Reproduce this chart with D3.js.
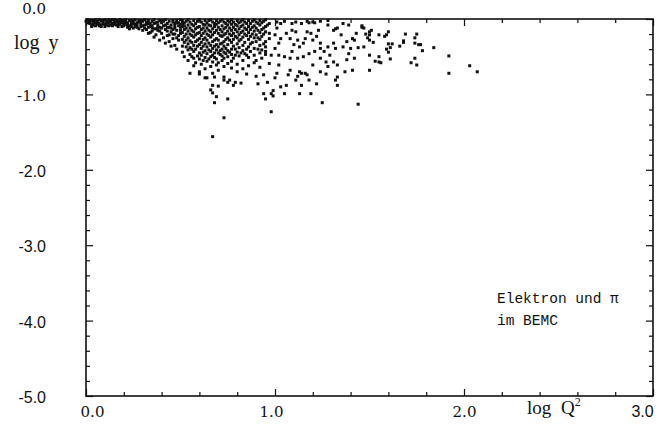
<!DOCTYPE html>
<html>
<head>
<meta charset="utf-8">
<script src="https://cdn.jsdelivr.net/npm/d3@7"></script>
<style>
	body { margin: 0; background: #fff; }
	svg { display: block; }
</style>
</head>
<body>
<div id="chart"></div>
<script>
// axis values
const xTickValues = [0, 1, 2, 3]
const yTickValues = [0, -1, -2, -3, -4, -5]
const xMinorTicks = [0.2, 0.4, 0.6, 0.8, 1.2, 1.4, 1.6, 1.8, 2.2, 2.4, 2.6, 2.8]
const yMinorTicks = [-0.2, -0.4, -0.6, -0.8, -1.2, -1.4, -1.6, -1.8, -2.2, -2.4, -2.6, -2.8, -3.2, -3.4, -3.6, -3.8, -4.2, -4.4, -4.6, -4.8]
const noteLines = ["Elektron und \u03c0", "im BEMC"]

// events [log Q2, log y]
const lowQ2 = [
	[0.01,-0.01],[0.02,-0.04],[0.03,-0.02],[0.03,-0.07],[0.04,-0.05],[0.05,-0.01],[0.05,-0.09],[0.06,-0.03],
	[0.07,-0.06],[0.08,-0.02],[0.08,-0.08],[0.09,-0.04],[0.10,-0.01],[0.10,-0.07],[0.11,-0.03],[0.12,-0.05],
	[0.12,-0.09],[0.13,-0.02],[0.14,-0.06],[0.15,-0.04],[0.15,-0.01],[0.16,-0.08],[0.17,-0.03],[0.17,-0.06],
	[0.18,-0.01],[0.19,-0.05],[0.19,-0.10],[0.20,-0.03],[0.21,-0.07],[0.21,-0.01],[0.22,-0.05],[0.23,-0.02],
	[0.23,-0.09],[0.24,-0.06],[0.25,-0.03],[0.25,-0.12],[0.26,-0.01],[0.27,-0.08],[0.27,-0.05],[0.28,-0.02],
	[0.29,-0.10],[0.29,-0.06],[0.30,-0.03],[0.00,-0.03],[0.02,-0.06],[0.04,-0.02],[0.06,-0.07],[0.07,-0.01],
	[0.09,-0.06],[0.11,-0.08],[0.13,-0.04],[0.14,-0.01],[0.16,-0.04],[0.18,-0.07],[0.20,-0.09],[0.22,-0.11],
	[0.24,-0.02],[0.26,-0.07],[0.28,-0.13],[0.01,-0.05],[0.03,-0.10],[0.06,-0.05],[0.08,-0.10],[0.11,-0.05],
	[0.13,-0.08],[0.16,-0.02],[0.18,-0.04],[0.20,-0.06],[0.23,-0.13],[0.26,-0.10],[0.29,-0.02],
	[0.02,-0.02],[0.04,-0.08],[0.05,-0.05],[0.07,-0.09],[0.09,-0.02],[0.10,-0.10],[0.12,-0.01],[0.14,-0.09],
	[0.15,-0.07],[0.17,-0.10],[0.19,-0.02],[0.21,-0.04],[0.22,-0.08],[0.24,-0.10],[0.25,-0.06],[0.27,-0.11],
	[0.28,-0.04],[0.30,-0.09]
]

const midBand = [
	[0.31,-0.01],[0.31,-0.08],[0.32,-0.04],[0.32,-0.14],[0.33,-0.02],[0.33,-0.11],[0.34,-0.06],[0.34,-0.18],
	[0.35,-0.03],[0.35,-0.09],[0.36,-0.13],[0.36,-0.01],[0.37,-0.05],[0.37,-0.21],[0.38,-0.08],[0.38,-0.15],
	[0.39,-0.02],[0.39,-0.11],[0.40,-0.05],[0.40,-0.19],[0.41,-0.09],[0.41,-0.25],[0.42,-0.01],[0.42,-0.14],
	[0.43,-0.06],[0.43,-0.22],[0.44,-0.03],[0.44,-0.11],[0.44,-0.30],[0.45,-0.17],[0.45,-0.08],[0.46,-0.02],
	[0.46,-0.26],[0.47,-0.12],[0.47,-0.20],[0.47,-0.35],[0.48,-0.05],[0.48,-0.15],[0.49,-0.09],[0.49,-0.28],
	[0.50,-0.01],[0.50,-0.19],[0.30,-0.15],[0.33,-0.19],[0.36,-0.24],[0.39,-0.28],[0.42,-0.32],[0.45,-0.36],
	[0.48,-0.40],[0.34,-0.10],[0.37,-0.13],[0.40,-0.12],[0.43,-0.16],[0.46,-0.14],[0.49,-0.22],[0.32,-0.07],
	[0.35,-0.16],[0.38,-0.04],[0.41,-0.03],[0.44,-0.21],[0.47,-0.06],[0.50,-0.11],
	[0.31,-0.12],[0.33,-0.06],[0.35,-0.12],[0.36,-0.06],[0.38,-0.11],[0.39,-0.16],[0.40,-0.02],[0.42,-0.08],
	[0.43,-0.11],[0.45,-0.12],[0.46,-0.20],[0.48,-0.25],[0.50,-0.15]
]

const peakBand = [
	[0.51,-0.02],[0.51,-0.10],[0.51,-0.18],[0.51,-0.27],[0.51,-0.36],[0.51,-0.44],
	[0.52,-0.05],[0.52,-0.14],[0.52,-0.23],[0.52,-0.31],[0.52,-0.50],
	[0.54,-0.01],[0.54,-0.08],[0.54,-0.16],[0.54,-0.25],[0.54,-0.33],[0.54,-0.41],[0.54,-0.55],
	[0.55,-0.04],[0.55,-0.12],[0.55,-0.20],[0.55,-0.29],[0.55,-0.38],[0.55,-0.47],
	[0.57,-0.02],[0.57,-0.09],[0.57,-0.17],[0.57,-0.24],[0.57,-0.35],[0.57,-0.43],[0.57,-0.52],[0.57,-0.62],
	[0.58,-0.06],[0.58,-0.13],[0.58,-0.21],[0.58,-0.30],[0.58,-0.40],[0.58,-0.58],
	[0.60,-0.01],[0.60,-0.10],[0.60,-0.18],[0.60,-0.26],[0.60,-0.34],[0.60,-0.45],[0.60,-0.53],[0.60,-0.70],
	[0.61,-0.04],[0.61,-0.14],[0.61,-0.22],[0.61,-0.31],[0.61,-0.39],[0.61,-0.48],[0.61,-0.60],
	[0.63,-0.02],[0.63,-0.08],[0.63,-0.16],[0.63,-0.25],[0.63,-0.33],[0.63,-0.42],[0.63,-0.51],[0.63,-0.66],
	[0.64,-0.05],[0.64,-0.12],[0.64,-0.20],[0.64,-0.28],[0.64,-0.37],[0.64,-0.46],[0.64,-0.56],[0.64,-0.78],
	[0.66,-0.01],[0.66,-0.09],[0.66,-0.17],[0.66,-0.24],[0.66,-0.35],[0.66,-0.43],[0.66,-0.50],[0.66,-0.63],
	[0.67,-0.04],[0.67,-0.13],[0.67,-0.21],[0.67,-0.30],[0.67,-0.39],[0.67,-0.48],[0.67,-0.57],[0.67,-0.72],
	[0.69,-0.02],[0.69,-0.07],[0.69,-0.15],[0.69,-0.26],[0.69,-0.34],[0.69,-0.41],[0.69,-0.53],[0.69,-0.61],
	[0.70,-0.05],[0.70,-0.11],[0.70,-0.19],[0.70,-0.28],[0.70,-0.37],[0.70,-0.45],[0.70,-0.58],[0.70,-0.68],
	[0.72,-0.01],[0.72,-0.09],[0.72,-0.17],[0.72,-0.23],[0.72,-0.32],[0.72,-0.40],[0.72,-0.49],[0.72,-0.55],
	[0.73,-0.04],[0.73,-0.13],[0.73,-0.21],[0.73,-0.30],[0.73,-0.36],[0.73,-0.44],[0.73,-0.52],[0.73,-0.63],
	[0.75,-0.02],[0.75,-0.08],[0.75,-0.16],[0.75,-0.25],[0.75,-0.34],[0.75,-0.42],[0.75,-0.50],[0.75,-0.59]
]

// darker clumps in between the columns above
const clumps = [
	[0.46,-0.04],[0.47,-0.09],[0.48,-0.02],[0.49,-0.05],[0.50,-0.07],[0.51,-0.06],[0.52,-0.09],[0.53,-0.03],
	[0.53,-0.12],[0.53,-0.20],[0.53,-0.28],[0.53,-0.37],[0.56,-0.07],[0.56,-0.15],[0.56,-0.22],[0.56,-0.31],
	[0.56,-0.40],[0.56,-0.50],[0.59,-0.03],[0.59,-0.11],[0.59,-0.19],[0.59,-0.28],[0.59,-0.36],[0.59,-0.49],
	[0.62,-0.07],[0.62,-0.12],[0.62,-0.19],[0.62,-0.27],[0.62,-0.36],[0.62,-0.44],[0.62,-0.55],[0.65,-0.02],
	[0.65,-0.08],[0.65,-0.15],[0.65,-0.22],[0.65,-0.32],[0.65,-0.41],[0.65,-0.53],[0.68,-0.06],[0.68,-0.10],
	[0.68,-0.18],[0.68,-0.28],[0.68,-0.36],[0.68,-0.45],[0.68,-0.51],[0.71,-0.03],[0.71,-0.14],[0.71,-0.22],
	[0.71,-0.33],[0.71,-0.42],[0.71,-0.47],[0.74,-0.06],[0.74,-0.11],[0.74,-0.19],[0.74,-0.27],[0.74,-0.39],
	[0.74,-0.46],[0.76,-0.04],[0.76,-0.12],[0.76,-0.20],[0.76,-0.28],[0.76,-0.44],[0.79,-0.07],[0.79,-0.14],
	[0.79,-0.23],[0.79,-0.40],[0.79,-0.48],[0.82,-0.03],[0.82,-0.10],[0.82,-0.18],[0.82,-0.27],[0.82,-0.45],
	[0.85,-0.06],[0.85,-0.14],[0.85,-0.22],[0.85,-0.40],[0.85,-0.48],[0.88,-0.03],[0.88,-0.11],[0.88,-0.20],
	[0.88,-0.31],[0.91,-0.06],[0.91,-0.15],[0.91,-0.25],[0.91,-0.40],[0.94,-0.03],[0.94,-0.12],[0.94,-0.20],
	[0.94,-0.33]
]

const shoulderBand = [
	[0.77,-0.01],[0.77,-0.07],[0.77,-0.15],[0.77,-0.22],[0.77,-0.31],[0.77,-0.40],[0.77,-0.47],[0.77,-0.56],[0.77,-0.65],
	[0.78,-0.04],[0.78,-0.11],[0.78,-0.19],[0.78,-0.27],[0.78,-0.36],[0.78,-0.52],
	[0.80,-0.02],[0.80,-0.09],[0.80,-0.17],[0.80,-0.25],[0.80,-0.33],[0.80,-0.44],[0.80,-0.60],
	[0.81,-0.05],[0.81,-0.13],[0.81,-0.21],[0.81,-0.29],[0.81,-0.38],[0.81,-0.49],
	[0.83,-0.01],[0.83,-0.08],[0.83,-0.16],[0.83,-0.24],[0.83,-0.35],[0.83,-0.42],[0.83,-0.55],[0.83,-0.66],
	[0.84,-0.04],[0.84,-0.12],[0.84,-0.20],[0.84,-0.31],[0.84,-0.46],
	[0.86,-0.02],[0.86,-0.10],[0.86,-0.18],[0.86,-0.27],[0.86,-0.37],[0.86,-0.51],[0.86,-0.62],
	[0.87,-0.06],[0.87,-0.14],[0.87,-0.23],[0.87,-0.33],[0.87,-0.43],
	[0.89,-0.01],[0.89,-0.09],[0.89,-0.16],[0.89,-0.25],[0.89,-0.39],[0.89,-0.48],[0.89,-0.58],
	[0.90,-0.04],[0.90,-0.12],[0.90,-0.21],[0.90,-0.30],[0.90,-0.55],
	[0.92,-0.02],[0.92,-0.08],[0.92,-0.18],[0.92,-0.27],[0.92,-0.35],[0.92,-0.45],[0.92,-0.64],
	[0.93,-0.05],[0.93,-0.14],[0.93,-0.23],[0.93,-0.41],[0.93,-0.52],
	[0.95,-0.01],[0.95,-0.10],[0.95,-0.17],[0.95,-0.30],[0.95,-0.37],[0.95,-0.47]
]

const highQ2 = [
	[0.96,-0.08],[0.97,-0.06],[1.01,-0.04],[1.03,-0.06],[1.05,-0.03],[1.09,-0.06],[1.11,-0.04],[1.14,-0.06],
	[1.17,-0.03],[1.20,-0.04],[1.24,-0.03],[1.28,-0.08],[1.31,-0.15],[1.33,-0.12],[1.36,-0.06],[1.39,-0.08],
	[1.42,-0.28],[0.97,-0.19],[0.97,-0.26],[1.00,-0.21],[1.01,-0.12],[1.03,-0.26],[1.02,-0.32],[1.06,-0.19],
	[1.08,-0.26],[1.09,-0.15],[1.11,-0.17],[1.12,-0.28],[1.10,-0.34],[1.13,-0.37],[1.15,-0.32],[1.16,-0.26],
	[1.17,-0.17],[1.19,-0.19],[1.20,-0.28],[1.22,-0.23],[1.23,-0.15],[1.24,-0.32],[1.24,-0.39],[1.26,-0.43],
	[1.28,-0.37],[1.29,-0.48],[1.31,-0.32],[1.32,-0.39],[1.35,-0.21],[1.36,-0.37],[1.38,-0.30],[1.39,-0.46],
	[1.40,-0.39],[1.41,-0.26],[1.42,-0.52],[0.95,-0.43],[0.98,-0.48],[1.00,-0.39],[1.02,-0.48],[1.05,-0.50],
	[1.08,-0.52],[1.09,-0.43],[1.12,-0.52],[1.15,-0.50],[1.18,-0.46],[1.21,-0.43],[1.24,-0.52],[1.27,-0.57],
	[1.31,-0.57],[1.38,-0.54],[0.97,-0.59],[1.02,-0.61],[1.08,-0.68],[1.13,-0.70],[1.20,-0.61],[1.28,-0.63],
	[1.33,-0.61],[1.37,-0.70],[1.41,-0.68],[1.01,-0.72],[1.16,-0.72],[1.24,-0.70],
	[1.18,-0.05],[1.21,-0.05],[1.28,-0.02],[1.32,-0.13],[1.46,-0.09],[1.50,-0.17]
]

const sparseTail = [
	[1.44,-1.13],[1.92,-0.72],[1.92,-0.49],[2.03,-0.62],[2.07,-0.70],[1.84,-0.38],[1.78,-0.42],[1.77,-0.34],
	[1.76,-0.34],[1.74,-0.32],[1.75,-0.61],[1.74,-0.52],[1.72,-0.58],[1.74,-0.25],[1.75,-0.20],[1.69,-0.20],
	[1.68,-0.31],[1.68,-0.29],[1.66,-0.36],[1.62,-0.33],[1.60,-0.33],[1.61,-0.38],[1.59,-0.40],[1.60,-0.44],
	[1.61,-0.53],[1.60,-0.17],[1.58,-0.23],[1.59,-0.21],[1.55,-0.21],[1.55,-0.57],[1.56,-0.58],[1.53,-0.56],
	[1.55,-0.50],[1.50,-0.68],[1.50,-0.48],[1.52,-0.31],[1.50,-0.28],[1.49,-0.25],[1.50,-0.21],[1.51,-0.15],
	[1.47,-0.12],[1.47,-0.37],[1.44,-0.38],[1.43,-0.19],[1.48,-0.20],[1.46,-0.11]
]

const deepEvents = [
	[0.67,-1.56],[0.73,-1.31],[0.98,-1.23],[1.25,-1.11],[0.68,-1.11],[0.75,-1.06],[0.94,-0.99],[0.95,-1.06],
	[0.98,-0.99],[0.99,-0.95],[0.99,-1.02],[1.05,-0.99],[1.13,-0.99],[1.19,-0.99],[0.91,-0.86],[0.96,-0.84],
	[1.03,-0.90],[1.06,-0.88],[1.14,-0.88],[1.22,-0.86],[1.32,-0.81],[1.33,-0.88],[1.33,-0.77],[1.27,-0.73],
	[1.18,-0.81],[1.11,-0.81],[1.12,-0.76],[1.14,-0.72],[1.17,-0.74],[1.00,-0.78],[0.94,-0.74],[0.90,-0.76],
	[0.85,-0.73],[0.82,-0.85],[0.78,-0.88],[0.79,-0.84],[0.75,-0.84],[0.76,-0.81],[0.73,-0.77],[0.73,-0.81],
	[0.70,-0.89],[0.67,-0.88],[0.66,-0.94],[0.67,-0.98],[0.69,-1.03],[0.63,-0.78],[0.60,-0.73],[0.55,-0.72],
	[0.68,-0.77],[0.80,-0.70],[1.07,-0.74]
]

const allEvents = [lowQ2, midBand, peakBand, clumps, shoulderBand, highQ2, sparseTail, deepEvents].flat()

const WIDTH = 664
const HEIGHT = 434
const FRAME = { left: 86, right: 653, top: 19, bottom: 396 }
const INK = "#111"

const xScale = d3.scaleLinear().domain([0, 3]).range([FRAME.left, FRAME.right])
const yScale = d3.scaleLinear().domain([-5, 0]).range([FRAME.bottom, FRAME.top])
const tickText = d => d3.format(".1f")(d).replace("\u2212", "-")

const svg = d3.select("#chart")
	.append("svg")
		.attr("width", WIDTH)
		.attr("height", HEIGHT)
		.style("background", "#fff")

// inward ticks on all four sides, longer at the integers
function drawTicks(axisFn, scale, values, size, transform) {
	svg.append("g")
		.attr("transform", transform)
		.call(axisFn(scale).tickValues(values).tickSize(size).tickFormat(""))
		.call(g => g.select(".domain").remove())
		.selectAll("line")
			.attr("stroke", INK)
			.attr("stroke-width", 1.2)
}
drawTicks(d3.axisBottom, xScale, xMinorTicks, -4, `translate(0,${FRAME.bottom})`)
drawTicks(d3.axisBottom, xScale, xTickValues, -7, `translate(0,${FRAME.bottom})`)
drawTicks(d3.axisTop, xScale, xMinorTicks, -4, `translate(0,${FRAME.top})`)
drawTicks(d3.axisTop, xScale, xTickValues, -7, `translate(0,${FRAME.top})`)
drawTicks(d3.axisLeft, yScale, yMinorTicks, -4, `translate(${FRAME.left},0)`)
drawTicks(d3.axisLeft, yScale, yTickValues, -7, `translate(${FRAME.left},0)`)
drawTicks(d3.axisRight, yScale, yMinorTicks, -4, `translate(${FRAME.right},0)`)
drawTicks(d3.axisRight, yScale, yTickValues, -7, `translate(${FRAME.right},0)`)

svg.append("rect")
	.attr("x", FRAME.left)
	.attr("y", FRAME.top)
	.attr("width", FRAME.right - FRAME.left)
	.attr("height", FRAME.bottom - FRAME.top)
	.attr("fill", "none")
	.attr("stroke", INK)
	.attr("stroke-width", 1.6)

// tick labels
const xLabels = svg.append("g")
	.attr("transform", `translate(0,${FRAME.bottom})`)
	.call(d3.axisBottom(xScale).tickValues(xTickValues).tickSize(0).tickPadding(10).tickFormat(tickText))
xLabels.select(".domain").remove()
xLabels.selectAll("text")
	.attr("fill", INK)
	.attr("font-family", (d) => d === 3 ? "Liberation Sans, sans-serif" : "DejaVu Serif, serif")
	.attr("font-size", (d) => d === 3 ? 16 : 15)
	.attr("dx", (d) => d === 0 ? 6 : d === 1 ? -4 : d === 3 ? -11 : 0)

const yLabels = svg.append("g")
	.attr("transform", `translate(${FRAME.left},0)`)
	.call(d3.axisLeft(yScale).tickValues(yTickValues).tickSize(0).tickPadding(40).tickFormat(tickText))
yLabels.select(".domain").remove()
yLabels.selectAll("text")
	.attr("fill", INK)
	.attr("font-family", (d) => d > -2 ? "DejaVu Serif, serif" : "Liberation Sans, sans-serif")
	.attr("font-size", (d) => d > -2 ? 15 : 16)
	.attr("dy", (d) => d === 0 ? "-0.4em" : "0.4em")

svg.append("text")
	.attr("x", 14)
	.attr("y", 49)
	.attr("font-family", "Liberation Serif, serif")
	.attr("font-size", 20)
	.attr("word-spacing", 4)
	.attr("fill", INK)
	.text("log y")

const qLabel = svg.append("text")
	.attr("x", 527)
	.attr("y", 414)
	.attr("font-family", "Liberation Serif, serif")
	.attr("font-size", 19)
	.attr("word-spacing", 5)
	.attr("fill", INK)
qLabel.append("tspan").text("log Q")
qLabel.append("tspan").attr("dy", -8).attr("font-size", 12).text("2")

svg.append("g")
	.selectAll("text")
	.data(noteLines)
	.join("text")
		.attr("x", 497)
		.attr("y", (d, i) => 303 + i * 22)
		.attr("font-family", "Liberation Mono, monospace")
		.attr("font-size", 14.5)
		.attr("fill", INK)
		.text(d => d)

// the events, drawn as small square dots like the plotter output
svg.append("g")
	.selectAll("rect")
	.data(allEvents)
	.join("rect")
		.attr("x", d => xScale(d[0]) - 1.5)
		.attr("y", d => yScale(d[1]) - 1.5)
		.attr("width", 3)
		.attr("height", 3)
		.attr("fill", INK)
</script>
</body>
</html>
